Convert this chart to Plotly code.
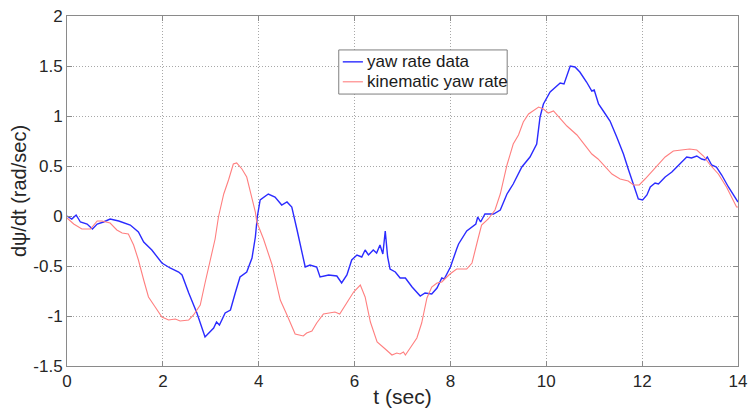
import plotly.graph_objects as go

# Measured yaw rate (rad/sec) vs time (sec)
t_yaw = [0.00, 0.10, 0.19, 0.28, 0.42, 0.53, 0.63, 0.76, 0.90, 1.08, 1.32, 1.49,
         1.60, 1.77, 1.98, 2.15, 2.33, 2.40, 2.54, 2.71, 2.88, 3.06, 3.12, 3.18,
         3.30, 3.41, 3.51, 3.61, 3.75, 3.86, 3.93, 3.97, 4.03, 4.20, 4.34, 4.48,
         4.59, 4.69, 4.80, 4.90, 4.97, 5.07, 5.21, 5.28, 5.46, 5.63, 5.73, 5.84,
         5.94, 6.05, 6.15, 6.22, 6.29, 6.39, 6.46, 6.53, 6.59, 6.64, 6.69, 6.74,
         6.85, 6.95, 7.06, 7.20, 7.37, 7.47, 7.61, 7.72, 7.82, 7.87, 8.00, 8.13,
         8.17, 8.34, 8.45, 8.53, 8.57, 8.63, 8.72, 8.90, 9.04, 9.18, 9.31, 9.49,
         9.66, 9.80, 9.87, 9.94, 10.08, 10.22, 10.29, 10.37, 10.50, 10.60, 10.70,
         10.84, 10.95, 11.00, 11.09, 11.19, 11.33, 11.47, 11.61, 11.71, 11.78,
         11.85, 11.92, 12.01, 12.10, 12.17, 12.27, 12.34, 12.48, 12.62, 12.76,
         12.93, 13.03, 13.14, 13.24, 13.31, 13.36, 13.45, 13.55, 13.66, 13.80,
         13.90, 14.00]
yaw_rate = [0.00, -0.03, 0.01, -0.06, -0.08, -0.13, -0.08, -0.06, -0.03, -0.05,
            -0.09, -0.16, -0.26, -0.34, -0.47, -0.52, -0.56, -0.59, -0.77, -0.97,
            -1.21, -1.12, -1.06, -1.09, -0.97, -0.94, -0.77, -0.61, -0.56, -0.42,
            -0.21, -0.01, 0.16, 0.22, 0.19, 0.11, 0.14, 0.09, -0.14, -0.36, -0.51,
            -0.49, -0.51, -0.61, -0.59, -0.60, -0.67, -0.59, -0.44, -0.39, -0.41,
            -0.34, -0.39, -0.34, -0.37, -0.29, -0.38, -0.15, -0.41, -0.53, -0.56,
            -0.62, -0.62, -0.71, -0.80, -0.77, -0.78, -0.72, -0.62, -0.63, -0.51,
            -0.33, -0.28, -0.15, -0.11, -0.08, -0.01, -0.06, 0.02, 0.02, 0.06,
            0.22, 0.32, 0.49, 0.59, 0.72, 0.99, 1.12, 1.24, 1.30, 1.33, 1.32, 1.50,
            1.49, 1.44, 1.34, 1.25, 1.26, 1.12, 1.05, 0.95, 0.79, 0.62, 0.47, 0.37,
            0.26, 0.17, 0.16, 0.21, 0.29, 0.33, 0.32, 0.39, 0.44, 0.51, 0.59, 0.58,
            0.60, 0.57, 0.56, 0.59, 0.51, 0.49, 0.41, 0.29, 0.22, 0.14]

# Kinematic yaw rate (rad/sec) vs time (sec)
t_kin = [0.00, 0.14, 0.31, 0.49, 0.63, 0.73, 0.90, 1.04, 1.15, 1.28, 1.39, 1.49,
         1.60, 1.70, 1.84, 1.98, 2.12, 2.26, 2.36, 2.54, 2.64, 2.78, 2.88, 2.99,
         3.09, 3.16, 3.27, 3.37, 3.47, 3.54, 3.65, 3.75, 3.86, 3.93, 3.96, 4.10,
         4.28, 4.45, 4.59, 4.76, 4.93, 5.00, 5.11, 5.21, 5.35, 5.49, 5.59, 5.69,
         5.84, 5.98, 6.12, 6.22, 6.33, 6.47, 6.64, 6.78, 6.88, 6.95, 7.02, 7.06,
         7.16, 7.30, 7.40, 7.51, 7.61, 7.72, 7.82, 7.99, 8.13, 8.34, 8.45, 8.52,
         8.58, 8.65, 8.79, 8.93, 9.04, 9.18, 9.31, 9.42, 9.52, 9.63, 9.73, 9.84,
         9.94, 10.04, 10.15, 10.25, 10.43, 10.64, 10.84, 10.95, 11.08, 11.23,
         11.37, 11.54, 11.71, 11.82, 11.94, 12.06, 12.20, 12.34, 12.48, 12.65,
         12.86, 12.99, 13.14, 13.28, 13.42, 13.59, 13.76, 13.87, 13.97, 14.00]
kin_rate = [-0.02, -0.08, -0.13, -0.13, -0.05, -0.05, -0.07, -0.14, -0.17, -0.18,
            -0.29, -0.44, -0.64, -0.81, -0.91, -1.01, -1.04, -1.03, -1.05, -1.04,
            -0.99, -0.89, -0.67, -0.44, -0.23, -0.01, 0.22, 0.36, 0.52, 0.53, 0.47,
            0.39, 0.19, 0.04, -0.06, -0.23, -0.49, -0.84, -0.99, -1.18, -1.20,
            -1.17, -1.15, -1.07, -0.98, -0.97, -0.96, -0.98, -0.86, -0.76, -0.69,
            -0.81, -1.06, -1.26, -1.33, -1.39, -1.37, -1.38, -1.36, -1.39, -1.32,
            -1.22, -1.07, -0.82, -0.71, -0.67, -0.66, -0.58, -0.53, -0.53, -0.47,
            -0.35, -0.22, -0.09, -0.03, 0.06, 0.22, 0.51, 0.72, 0.81, 0.94, 1.02,
            1.05, 1.09, 1.07, 1.03, 1.05, 1.00, 0.90, 0.81, 0.68, 0.62, 0.57, 0.49,
            0.42, 0.37, 0.35, 0.31, 0.31, 0.37, 0.44, 0.52, 0.59, 0.65, 0.66, 0.67,
            0.66, 0.60, 0.51, 0.42, 0.29, 0.19, 0.09, 0.09]

x_ticks = [0, 2, 4, 6, 8, 10, 12, 14]
y_ticks = [-1.5, -1, -0.5, 0, 0.5, 1, 1.5, 2]
y_tick_text = ["-1.5", "-1", "-0.5", "0", "0.5", "1", "1.5", "2"]

series_names = ["yaw rate data", "kinematic yaw rate"]
series_colors = ["#2b2bff", "#ff7f7f"]
series_widths = [1.4, 1.1]

FONT = "Liberation Sans, Arial, sans-serif"
AXIS_GREY = "#8a8a8a"

fig = go.Figure()
for (tx, vals), name, color, width in zip(
        [(t_yaw, yaw_rate), (t_kin, kin_rate)], series_names, series_colors, series_widths):
    fig.add_trace(go.Scatter(x=tx, y=vals, mode="lines", name=name,
                             line=dict(color=color, width=width), showlegend=False))

axis_common = dict(
    automargin=False,
    showline=True, linecolor=AXIS_GREY, linewidth=1, mirror="ticks",
    ticks="inside", ticklen=5, tickcolor=AXIS_GREY,
    showgrid=True, gridcolor="#a8a8a8", griddash="1px,2px", gridwidth=1,
    zeroline=False, tickfont=dict(family=FONT, size=17, color="#262626"),
)

# Boxed key in the upper middle of the axes (paper coordinates)
box_x0, box_x1 = 0.405, 0.656
box_y0, box_y1 = 0.777, 0.903
key_line_x0, key_line_x1 = 0.411, 0.441
key_text_x = 0.444
key_rows_y = [0.869, 0.812]

shapes = [dict(type="rect", xref="paper", yref="paper",
               x0=box_x0, x1=box_x1, y0=box_y0, y1=box_y1,
               line=dict(color="#7f7f7f", width=1), fillcolor="white", layer="above")]
annotations = []
for name, color, width, ky in zip(series_names, series_colors, series_widths, key_rows_y):
    shapes.append(dict(type="line", xref="paper", yref="paper",
                       x0=key_line_x0, x1=key_line_x1, y0=ky, y1=ky,
                       line=dict(color=color, width=width), layer="above"))
    annotations.append(dict(xref="paper", yref="paper", x=key_text_x, y=ky,
                            xanchor="left", yanchor="middle", showarrow=False,
                            text=name, font=dict(family=FONT, size=17, color="#1a1a1a")))

fig.update_layout(
    width=749, height=408,
    margin=dict(l=67, r=11, t=16, b=42),
    paper_bgcolor="white", plot_bgcolor="white",
    font=dict(family=FONT, color="#262626"),
    xaxis=dict(range=[0, 14], tickvals=x_ticks,
               title=dict(text="t (sec)", font=dict(family=FONT, size=21), standoff=4),
               **axis_common),
    yaxis=dict(range=[-1.5, 2], tickvals=y_ticks, ticktext=y_tick_text,
               title=dict(text="dψ/dt (rad/sec)", font=dict(family=FONT, size=20), standoff=1),
               **axis_common),
    shapes=shapes,
    annotations=annotations,
    showlegend=False,
)

fig.write_html("out.html")
